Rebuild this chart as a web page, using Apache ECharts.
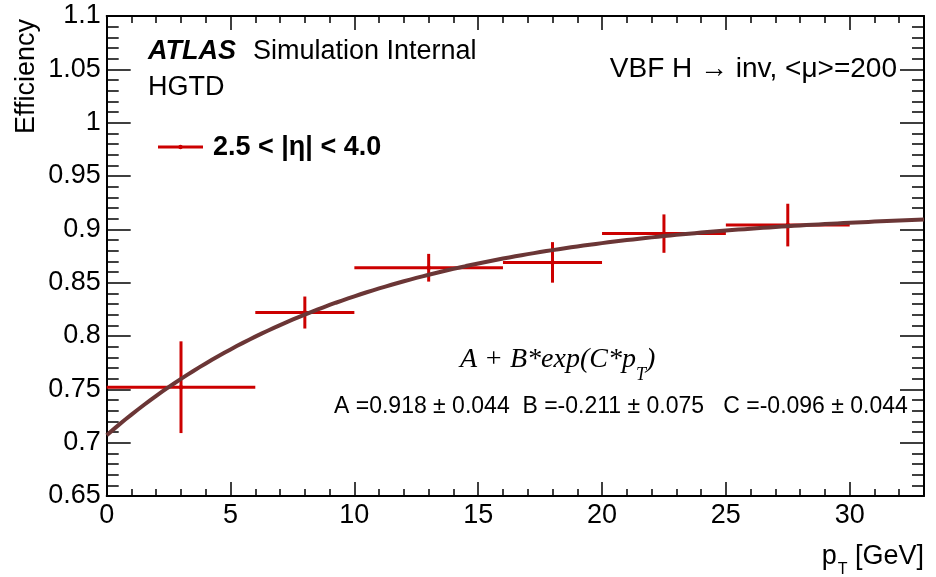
<!DOCTYPE html>
<html>
<head>
<meta charset="utf-8">
<script src="https://cdn.jsdelivr.net/npm/echarts@6/dist/echarts.min.js"></script>
<style>
  html, body { margin: 0; padding: 0; background: #fff; }
  #chart { width: 936px; height: 577px; }
</style>
</head>
<body>
<div id="chart"></div>
<script>
// Efficiency per pT bin: bin centre, half-width, value, vertical uncertainty
const ptCenter = [3, 8, 13, 18, 22.5, 27.5];
const ptHalfWidth = [3, 2, 3, 2, 2.5, 2.5];
const efficiency = [0.752, 0.822, 0.864, 0.869, 0.896, 0.904];
const efficiencyErr = [0.043, 0.015, 0.013, 0.019, 0.018, 0.020];

// Fit result: A + B*exp(C*pT)
const FIT_A = 0.918, FIT_B = -0.211, FIT_C = -0.096;
const FIT_A_ERR = 0.044, FIT_B_ERR = 0.075, FIT_C_ERR = 0.044;

const X_MIN = 0, X_MAX = 33;
const Y_MIN = 0.65, Y_MAX = 1.1;

const SANS = '"Liberation Sans", Arial, Helvetica, sans-serif';
const SERIF = '"Liberation Serif", "Times New Roman", serif';
const RED = '#cc0000';
const FIT_COLOR = '#6b3636';

const binData = ptCenter.map((x, i) => [
  x, efficiency[i],
  x - ptHalfWidth[i], x + ptHalfWidth[i],
  efficiency[i] - efficiencyErr[i], efficiency[i] + efficiencyErr[i]
]);

const fitCurve = [];
for (let k = 0; k <= 132; k++) {
  const x = X_MIN + k * (X_MAX - X_MIN) / 132;
  fitCurve.push([x, FIT_A + FIT_B * Math.exp(FIT_C * x)]);
}

const tickLine = { color: '#000', width: 1.5 };
const axisLine = { show: true, onZero: false, lineStyle: { color: '#000', width: 2 } };

function xAxisCfg(pos, labels) {
  return {
    type: 'value', position: pos, min: X_MIN, max: X_MAX, interval: 5,
    axisLine: axisLine,
    axisTick: { inside: true, length: 14, lineStyle: tickLine },
    minorTick: { show: true, splitNumber: 5, length: 7, lineStyle: tickLine },
    splitLine: { show: false },
    axisLabel: labels ? {
      show: true, fontFamily: SANS, fontSize: 27, color: '#000', margin: 6,
      showMaxLabel: false
    } : { show: false }
  };
}
function yAxisCfg(pos, labels) {
  return {
    type: 'value', position: pos, min: Y_MIN, max: Y_MAX, interval: 0.05,
    axisLine: axisLine,
    axisTick: { inside: true, length: 24, lineStyle: tickLine },
    minorTick: { show: true, splitNumber: 5, length: 12, lineStyle: tickLine },
    splitLine: { show: false },
    axisLabel: labels ? {
      show: true, fontFamily: SANS, fontSize: 27, color: '#000', margin: 6,
      formatter: v => String(+v.toFixed(2))
    } : { show: false }
  };
}

const chart = echarts.init(document.getElementById('chart'), null, { renderer: 'canvas' });

chart.setOption({
  animation: false,
  backgroundColor: '#fff',
  grid: { left: 106.7, right: 12, top: 16, bottom: 81, containLabel: false },
  xAxis: [xAxisCfg('bottom', true), xAxisCfg('top', false)],
  yAxis: [yAxisCfg('left', true), yAxisCfg('right', false)],
  series: [
    {
      type: 'custom',
      name: 'bins',
      xAxisIndex: 0, yAxisIndex: 0,
      z: 2,
      data: binData,
      encode: { x: [0, 2, 3], y: [1, 4, 5] },
      renderItem: function (params, api) {
        const x = api.value(0), y = api.value(1);
        const pL = api.coord([api.value(2), y]);
        const pR = api.coord([api.value(3), y]);
        const pB = api.coord([x, api.value(4)]);
        const pT = api.coord([x, api.value(5)]);
        const c = api.coord([x, y]);
        const st = { stroke: RED, lineWidth: 3 };
        return {
          type: 'group',
          children: [
            { type: 'line', shape: { x1: pL[0], y1: pL[1], x2: pR[0], y2: pR[1] }, style: st },
            { type: 'line', shape: { x1: pB[0], y1: pB[1], x2: pT[0], y2: pT[1] }, style: st },
            { type: 'circle', shape: { cx: c[0], cy: c[1], r: 2.2 }, style: { fill: RED } }
          ]
        };
      }
    },
    {
      type: 'line',
      name: 'fit',
      xAxisIndex: 0, yAxisIndex: 0,
      z: 3,
      data: fitCurve,
      showSymbol: false,
      smooth: false,
      lineStyle: { color: FIT_COLOR, width: 4 }
    }
  ],
  graphic: [
    {
      type: 'text', x: 27, y: 19, rotation: Math.PI / 2,
      style: { text: 'Efficiency', font: '27px ' + SANS, fill: '#000', align: 'right', verticalAlign: 'middle' }
    },
    {
      type: 'text', x: 924, y: 570,
      style: {
        text: '{p|p}{s|T}{g| [GeV]}', align: 'right', verticalAlign: 'bottom',
        rich: {
          p: { font: '27px ' + SANS, fill: '#000', verticalAlign: 'bottom' },
          s: { font: '16px ' + SANS, fill: '#000', verticalAlign: 'bottom', padding: [0, 0, -8, 1] },
          g: { font: '27px ' + SANS, fill: '#000', verticalAlign: 'bottom' }
        }
      }
    },
    {
      type: 'text', x: 148, y: 65,
      style: {
        text: '{a|ATLAS}{b|Simulation Internal}', verticalAlign: 'bottom',
        rich: {
          a: { font: 'italic bold 27px ' + SANS, fill: '#000', padding: [0, 17, 0, 0] },
          b: { font: '27px ' + SANS, fill: '#000' }
        }
      }
    },
    {
      type: 'text', x: 148, y: 101,
      style: { text: 'HGTD', font: '27px ' + SANS, fill: '#000', verticalAlign: 'bottom' }
    },
    {
      type: 'text', x: 897, y: 83,
      style: { text: 'VBF H \u2192 inv, <\u03bc>=200', font: '28px ' + SANS, fill: '#000', align: 'right', verticalAlign: 'bottom' }
    },
    {
      type: 'line', shape: { x1: 158, y1: 147, x2: 203, y2: 147 },
      style: { stroke: RED, lineWidth: 3 }
    },
    {
      type: 'circle', shape: { cx: 180.5, cy: 147, r: 2.2 }, style: { fill: RED }
    },
    {
      type: 'text', x: 213, y: 161,
      style: { text: '2.5 < |\u03b7| < 4.0', font: 'bold 27px ' + SANS, fill: '#000', verticalAlign: 'bottom' }
    },
    {
      type: 'text', x: 460, y: 374,
      style: {
        text: '{m|A + B*exp(C*p}{s|T}{m|)}', verticalAlign: 'bottom',
        rich: {
          m: { font: 'italic 28px ' + SERIF, fill: '#000', verticalAlign: 'bottom' },
          s: { font: 'italic 18px ' + SERIF, fill: '#000', verticalAlign: 'bottom', padding: [0, 0, -10, 0] }
        }
      }
    },
    {
      type: 'text', x: 334, y: 418,
      style: {
        text: 'A =' + FIT_A.toFixed(3) + ' \u00b1 ' + FIT_A_ERR.toFixed(3) +
              '  B =' + FIT_B.toFixed(3) + ' \u00b1 ' + FIT_B_ERR.toFixed(3) +
              '   C =' + FIT_C.toFixed(3) + ' \u00b1 ' + FIT_C_ERR.toFixed(3),
        font: '23px ' + SANS, fill: '#000', verticalAlign: 'bottom'
      }
    }
  ]
});
</script>
</body>
</html>
